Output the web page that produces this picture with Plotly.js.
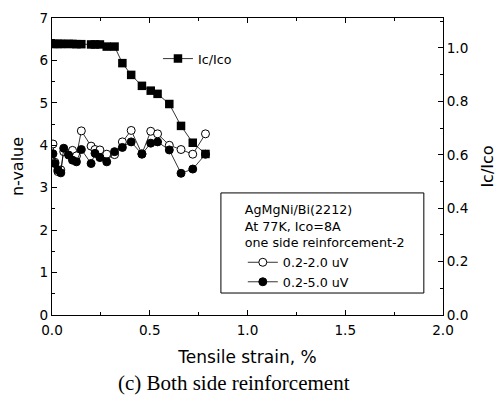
<!DOCTYPE html>
<html>
<head>
<meta charset="utf-8">
<script src="https://cdn.plot.ly/plotly-3.0.1.min.js"></script>
<style>html,body{margin:0;padding:0;background:#fff;}#chart{width:502px;height:397px;}</style>
</head>
<body>
<div id="chart"></div>
<script>
// Tensile strain (%)
const strain = [0.005, 0.015, 0.03, 0.045, 0.06, 0.085, 0.105, 0.125, 0.15, 0.20, 0.22, 0.245, 0.28, 0.32, 0.36, 0.405, 0.46, 0.505, 0.54, 0.60, 0.66, 0.72, 0.785];
// Ic/Ico (right axis)
const icIco = [1.015, 1.015, 1.015, 1.015, 1.015, 1.015, 1.015, 1.014, 1.014, 1.013, 1.013, 1.013, 1.005, 1.005, 0.943, 0.899, 0.858, 0.840, 0.828, 0.790, 0.708, 0.645, 0.603];
// n-value, 0.2-2.0 uV criterion (open circles)
const n_02_20 = [4.03, 3.60, 3.38, 3.42, 3.85, 3.80, 3.88, 3.75, 4.34, 3.98, 3.90, 3.89, 3.79, 3.78, 4.08, 4.35, 3.80, 4.33, 4.27, 4.00, 3.90, 3.79, 4.27];
// n-value, 0.2-5.0 uV criterion (filled circles)
const n_02_50 = [3.80, 3.57, 3.42, 3.35, 3.93, 3.77, 3.65, 3.61, 3.90, 3.57, 3.81, 3.71, 3.61, 3.85, 3.95, 4.08, 3.79, 4.05, 4.08, 3.89, 3.34, 3.44, 3.79];

const xTickLabels = ['0.0', '0.5', '1.0', '1.5', '2.0'];

const FONT = 'DejaVu Sans, Arial, sans-serif';

const traces = [
  {
    x: strain, y: icIco, name: 'Ic/Ico', yaxis: 'y', legend: 'legend', showlegend: true,
    type: 'scatter', mode: 'lines+markers',
    line: {color: '#000', width: 0.8},
    marker: {symbol: 'square', size: 8.5, color: '#000'}
  },
  {
    x: strain, y: n_02_20, name: '0.2-2.0 uV', yaxis: 'y2', legend: 'legend2', showlegend: true,
    type: 'scatter', mode: 'lines+markers',
    line: {color: '#000', width: 0.8},
    marker: {symbol: 'circle', size: 8, color: '#fff', line: {color: '#000', width: 1}}
  },
  {
    x: strain, y: n_02_50, name: '0.2-5.0 uV', yaxis: 'y2', legend: 'legend2', showlegend: true,
    type: 'scatter', mode: 'lines+markers',
    line: {color: '#000', width: 0.8},
    marker: {symbol: 'circle', size: 8, color: '#000', line: {color: '#000', width: 1}}
  }
];

const axisCommon = {
  showline: true, linecolor: '#000', linewidth: 1,
  ticks: 'inside', ticklen: 5, tickwidth: 1, tickcolor: '#000',
  showgrid: false, zeroline: false,
  tickfont: {family: FONT, size: 13.6, color: '#000'}
};

const layout = {
  width: 502, height: 397,
  margin: {l: 52, r: 59, t: 18, b: 82},
  paper_bgcolor: '#fff', plot_bgcolor: '#fff',
  font: {family: FONT, color: '#000'},
  showlegend: true,
  xaxis: Object.assign({}, axisCommon, {
    range: [0, 2], tickmode: 'array', tickvals: [0, 0.5, 1, 1.5, 2], ticktext: xTickLabels,
    mirror: 'ticks', ticklabelstandoff: 3,
    minor: {dtick: 0.25, ticks: 'inside', ticklen: 3, tickcolor: '#000', showgrid: false},
    title: {text: 'Tensile strain, %', font: {family: FONT, size: 17, color: '#000'}, standoff: 13}
  }),
  yaxis: Object.assign({}, axisCommon, {
    side: 'right', range: [0, 1.112], tick0: 0, dtick: 0.2, tickformat: '.1f',
    minor: {dtick: 0.1, ticks: 'inside', ticklen: 3, tickcolor: '#000', showgrid: false},
    title: {text: 'Ic/Ico', font: {family: FONT, size: 16, color: '#000'}, standoff: 14}
  }),
  yaxis2: Object.assign({}, axisCommon, {
    overlaying: 'y', side: 'left', range: [0, 7], tick0: 0, dtick: 1,
    minor: {dtick: 0.5, ticks: 'inside', ticklen: 3, tickcolor: '#000', showgrid: false},
    title: {text: 'n-value', font: {family: FONT, size: 16, color: '#000'}, standoff: 12}
  }),
  legend: {
    x: 0.271, y: 0.913, xanchor: 'left', yanchor: 'top',
    bgcolor: 'rgba(0,0,0,0)', borderwidth: 0,
    font: {family: FONT, size: 12.7, color: '#000'}
  },
  legend2: {
    x: 0.488, y: 0.394, xanchor: 'left', yanchor: 'top',
    bgcolor: 'rgba(0,0,0,0)', borderwidth: 0,
    tracegroupgap: 0,
    font: {family: FONT, size: 12.7, color: '#000'},
    title: {text: 'AgMgNi/Bi(2212)<br>At 77K, Ico=8A<br>one side reinforcement-2', font: {family: FONT, size: 12.7, color: '#000'}, side: 'top'}
  },
  shapes: [
    {type: 'rect', xref: 'paper', yref: 'paper', x0: 0.432, x1: 0.951, y0: 0.074, y1: 0.411,
     line: {color: '#000', width: 1}, fillcolor: 'rgba(0,0,0,0)'}
  ],
  annotations: [
    {text: '(c) Both side reinforcement', xref: 'paper', yref: 'paper', x: 0.466, y: -0.23,
     xanchor: 'center', yanchor: 'middle', showarrow: false,
     font: {family: 'Liberation Serif, Times New Roman, serif', size: 21, color: '#000'}}
  ]
};

Plotly.newPlot('chart', traces, layout, {displayModeBar: false, staticPlot: true});
</script>
</body>
</html>
